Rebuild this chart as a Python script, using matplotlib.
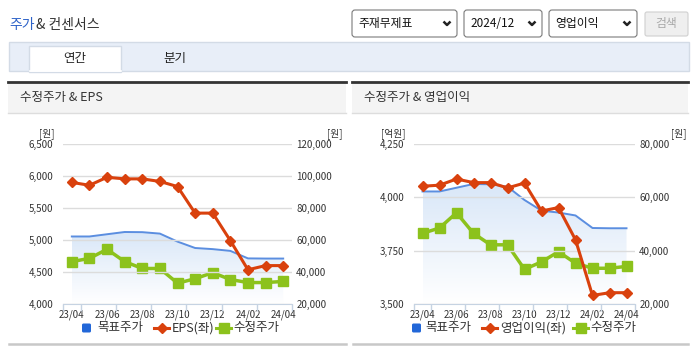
import numpy as np
import matplotlib.pyplot as plt
from matplotlib.patches import Rectangle, FancyBboxPatch
from matplotlib.colors import LinearSegmentedColormap
from matplotlib.ticker import FuncFormatter

plt.rcParams['font.family'] = ['Noto Sans CJK KR', 'DejaVu Sans']

months = ['23/04', '23/05', '23/06', '23/07', '23/08', '23/09', '23/10',
          '23/11', '23/12', '24/01', '24/02', '24/03', '24/04']
target_price = [62200, 62200, 63600, 65000, 64900, 64000, 59000,
                55000, 54300, 53200, 48500, 48400, 48400]
adj_price = [46500, 48500, 54200, 46500, 42200, 42200, 33000,
             35800, 39600, 35300, 33400, 33400, 34100]
eps = [5900, 5855, 5980, 5955, 5955, 5915, 5835,
       5420, 5420, 4990, 4535, 4600, 4600]
op_income = [4052, 4057, 4086, 4069, 4069, 4044, 4067,
             3936, 3952, 3801, 3540, 3553, 3553]

RED = '#d9410d'
GREEN = '#8cc21c'
BLUE = '#5b8ee0'
TXT = '#333333'

W, H = 695, 349
fig = plt.figure(figsize=(W / 100, H / 100), dpi=100)
fig.patch.set_facecolor('white')

# background layer in pixel coords (y down)
bg = fig.add_axes([0, 0, 1, 1], zorder=-5)
bg.set_xlim(0, W)
bg.set_ylim(H, 0)
bg.axis('off')

# page title
bg.text(9, 25, '주가', color='#2d62c8', fontsize=10, va='center')
bg.text(36, 25, '& 컨센서스', color=TXT, fontsize=10, va='center')

# select boxes + button
for (x0, x1, label) in [(352, 457, '주재무제표'), (464, 542, '2024/12'), (549, 637, '영업이익')]:
    bg.add_patch(FancyBboxPatch((x0, 10), x1 - x0, 27, boxstyle='round,pad=0,rounding_size=3',
                                fc='white', ec='#7a7a7a', lw=0.8))
    bg.text(x0 + 6, 23.5, label, fontsize=8.5, va='center', color='#111')
    cx = x1 - 10
    bg.plot([cx - 3.5, cx, cx + 3.5], [21.5, 25, 21.5], color='#222', lw=1.8, solid_capstyle='butt')
bg.add_patch(FancyBboxPatch((645, 12), 43, 24, boxstyle='round,pad=0,rounding_size=2',
                            fc='#efefef', ec='#d0d0d0', lw=0.8))
bg.text(666.5, 24, '검색', fontsize=8.5, va='center', ha='center', color='#a8a8a8')

# tab bar
bg.add_patch(Rectangle((9, 42), 680, 29, fc='#e8eef8', ec='#d3dbe6', lw=1))
bg.add_patch(Rectangle((29, 46), 92, 26, fc='white', ec='#d3dbe6', lw=1))
bg.plot([29.5, 120.5], [71, 71], color='white', lw=1.2)
bg.text(75, 58.5, '연간', fontsize=9, va='center', ha='center', color='#222')
bg.text(175, 58.5, '분기', fontsize=9, va='center', ha='center', color='#222')

# panel headers
for (x0, x1, title) in [(8, 346, '수정주가 & EPS'), (352, 688, '수정주가 & 영업이익')]:
    bg.add_patch(Rectangle((x0, 82), x1 - x0, 31, fc='#f4f4f4', ec='none'))
    bg.plot([x0, x1], [82, 82], color='#333333', lw=2)
    bg.plot([x0, x1], [113, 113], color='#dddddd', lw=1)
    bg.text(x0 + 12, 98, title, fontsize=9, va='center', color=TXT)
    bg.plot([x0 + 1, x1], [344, 344], color='#c8c8c8', lw=1.8)


def draw_chart(x0, x1, left_vals, left_ticks, right_ticks, left_unit, right_unit_x):
    ax = fig.add_axes([x0 / W, 1 - 304 / H, (x1 - x0) / W, 160 / H])
    ax2 = ax.twinx()
    ax.set_zorder(2)
    ax2.set_zorder(1)
    ax.patch.set_visible(False)
    ax2.patch.set_visible(False)
    x = np.arange(len(months))

    # gradient area under target price
    poly = ax2.fill_between(x, target_price, right_ticks[0], facecolor='none', edgecolor='none')
    grad = np.linspace(1, 0, 100).reshape(-1, 1)
    cmap = LinearSegmentedColormap.from_list('g', ['#ffffff', '#d9e7f8'])
    img = ax2.imshow(grad, extent=[x[0], x[-1], right_ticks[0], max(target_price)],
                     aspect='auto', cmap=cmap, origin='upper', zorder=1)
    img.set_clip_path(poly.get_paths()[0], ax2.transData)
    ax2.plot(x, target_price, color=BLUE, lw=1.4, zorder=2)
    ax2.plot(x, adj_price, color=GREEN, lw=2.5, marker='s', ms=7, zorder=3)
    ax.plot(x, left_vals, color=RED, lw=2.2, marker='D', ms=5.5, zorder=3)

    ax.set_xlim(-0.5, 12.5)
    ax2.set_xlim(-0.5, 12.5)
    ax.set_ylim(left_ticks[0], left_ticks[-1])
    ax.set_yticks(left_ticks)
    ax2.set_ylim(right_ticks[0], right_ticks[-1])
    ax2.set_yticks(right_ticks)
    fmt = FuncFormatter(lambda v, p: f'{v:,.0f}')
    ax.yaxis.set_major_formatter(fmt)
    ax2.yaxis.set_major_formatter(fmt)
    ax.yaxis.grid(True, color='#dcdcdc', lw=1)

    ax.set_xticks(x[::2])
    ax.set_xticklabels(months[::2])
    ax.set_xticks([-0.5] + list(np.arange(0.5, 13, 2)), minor=True)
    ax.tick_params(axis='x', which='major', length=0, pad=4, labelsize=7, labelcolor=TXT)
    ax.tick_params(axis='x', which='minor', length=5, width=1, color='#c6d3e2')
    ax.tick_params(axis='y', length=0, pad=7, labelsize=7, labelcolor=TXT)
    ax2.tick_params(axis='y', length=0, pad=3, labelsize=7, labelcolor=TXT)
    for s in ax.spines.values():
        s.set_visible(False)
    for s in ax2.spines.values():
        s.set_visible(False)
    ax.spines['bottom'].set_visible(True)
    ax.spines['bottom'].set_color('#c6d3e2')

    bg.text(x0 - 8, 134, left_unit, fontsize=7, ha='right', va='center', color=TXT)
    bg.text(right_unit_x, 134, '[원]', fontsize=7, ha='right', va='center', color=TXT)


draw_chart(63, 292, eps, [4000, 4500, 5000, 5500, 6000, 6500],
           [20000, 40000, 60000, 80000, 100000, 120000], '[원]', 342)
draw_chart(414, 635, op_income, [3500, 3750, 4000, 4250],
           [20000, 40000, 60000, 80000], '[억원]', 686)


# legends
def legend(items, y=328):
    for kind, x, tx, label in items:
        if kind == 'box':
            bg.add_patch(FancyBboxPatch((x, y - 4.5), 9, 9, boxstyle='round,pad=0,rounding_size=1.5',
                                        fc='#2267d8', ec='none'))
        else:
            color, mk = (RED, 'D') if kind == 'red' else (GREEN, 's')
            bg.plot([x, x + 15], [y, y], color=color, lw=2.2)
            bg.plot([x + 7.5], [y], color=color, marker=mk, ms=5.5 if mk == 'D' else 6.5)
        bg.text(tx, y, label, fontsize=9, va='center', color=TXT)


legend([('box', 82, 97, '목표주가'), ('red', 154, 172, 'EPS(좌)'), ('green', 216, 233, '수정주가')])
legend([('box', 412, 425, '목표주가'), ('red', 482, 500, '영업이익(좌)'), ('green', 573, 590, '수정주가')])

fig.savefig('out.png', dpi=100)
